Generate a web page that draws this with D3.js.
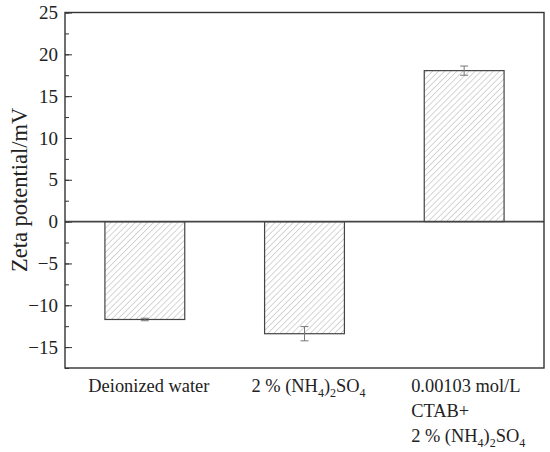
<!DOCTYPE html>
<html>
<head>
<meta charset="utf-8">
<script src="https://cdn.jsdelivr.net/npm/d3@7"></script>
<style>
  body { margin: 0; background: #fff; }
  text { font-family: "Liberation Serif", "Times New Roman", serif; fill: #222; }
</style>
</head>
<body>
<svg id="chart"></svg>
<script>
// data
let categories = ["water", "ammonium", "ctab"];
let labelLines = [
  ["Deionized water"],
  ["2 % (NH_4)_2SO_4"],
  ["0.00103 mol/L", "CTAB+", "2 % (NH_4)_2SO_4"]
];
let zeta = [-11.7, -13.4, 18.05];
let zetaErr = [0.15, 0.85, 0.55];
let yTicks = [-15, -10, -5, 0, 5, 10, 15, 20, 25];
let yMinorTicks = d3.range(-17.5, 25.01, 2.5);

let width = 550;
let height = 452;
let margin = {top: 12.5, right: 6, bottom: 84, left: 65};
let innerW = width - margin.left - margin.right;
let innerH = height - margin.top - margin.bottom;

let svg = d3.select('#chart')
            .attr('width', width)
            .attr('height', height);

let defs = svg.append('defs');
let hatch = defs.append('pattern')
    .attr('id', 'hatch')
    .attr('patternUnits', 'userSpaceOnUse')
    .attr('width', 4.3)
    .attr('height', 4.3)
    .attr('patternTransform', 'rotate(45)');
hatch.append('line')
    .attr('x1', 0).attr('y1', 0)
    .attr('x2', 0).attr('y2', 4.3)
    .attr('stroke', '#999')
    .attr('stroke-width', 0.8);

let g = svg.append('g')
    .attr('transform', `translate(${margin.left},${margin.top})`);

let xScale = d3.scaleBand()
                .domain(categories)
                .range([0, innerW])
                .paddingInner(0.5)
                .paddingOuter(0.25);

let yScale = d3.scaleLinear()
                .domain([-17.5, 25])
                .range([innerH, 0]);

// minor ticks (inward)
g.append('g')
    .call(d3.axisRight(yScale).tickValues(yMinorTicks).tickSize(4).tickFormat(''))
    .call(a => a.select('.domain').remove())
    .selectAll('line').attr('stroke', '#333').attr('stroke-width', 1);

// major ticks + labels
let yAxis = g.append('g')
    .call(d3.axisLeft(yScale).tickValues(yTicks).tickSize(0).tickPadding(7)
            .tickFormat(d => d < 0 ? '\u2212' + Math.abs(d) : d))
    .attr('font-family', null)
    .attr('font-size', null);
yAxis.select('.domain').remove();
yAxis.selectAll('text')
    .attr('font-family', '"Liberation Serif", serif')
    .attr('font-size', 19)
    .attr('fill', '#222');
yAxis.selectAll('.tick')
    .append('line')
    .attr('x1', 0).attr('x2', 7)
    .attr('stroke', '#333').attr('stroke-width', 1);

// bars
let bars = g.selectAll('.bar')
    .data(zeta)
    .enter()
    .append('g')
        .classed('bar', true);

bars.append('rect')
    .attr('x', (d, i) => xScale(categories[i]))
    .attr('y', d => yScale(Math.max(0, d)))
    .attr('width', xScale.bandwidth())
    .attr('height', d => Math.abs(yScale(d) - yScale(0)))
    .attr('fill', 'url(#hatch)')
    .attr('stroke', '#444')
    .attr('stroke-width', 1.2);

// error bars
let capW = 4;
bars.each(function(d, i) {
  let cx = xScale(categories[i]) + xScale.bandwidth() / 2;
  let lo = yScale(d - zetaErr[i]);
  let hi = yScale(d + zetaErr[i]);
  let eb = d3.select(this).append('g')
      .attr('stroke', '#777')
      .attr('stroke-width', 1);
  eb.append('line').attr('x1', cx).attr('x2', cx).attr('y1', lo).attr('y2', hi);
  eb.append('line').attr('x1', cx - capW).attr('x2', cx + capW).attr('y1', lo).attr('y2', lo);
  eb.append('line').attr('x1', cx - capW).attr('x2', cx + capW).attr('y1', hi).attr('y2', hi);
});

// zero line
g.append('line')
    .attr('x1', 0).attr('x2', innerW)
    .attr('y1', yScale(0)).attr('y2', yScale(0))
    .attr('stroke', '#444')
    .attr('stroke-width', 1.6);

// frame
g.append('rect')
    .attr('x', 0).attr('y', 0)
    .attr('width', innerW).attr('height', innerH)
    .attr('fill', 'none')
    .attr('stroke', '#333')
    .attr('stroke-width', 1.4);

// x labels with subscripts
function addRich(textSel, str) {
  let parts = str.split(/_(\d)/);
  let shift = 0;
  parts.forEach((p, k) => {
    if (!p) return;
    if (k % 2 === 1) {
      textSel.append('tspan')
          .attr('font-size', 12)
          .attr('dy', 5 - shift)
          .text(p);
      shift = 5;
    } else {
      textSel.append('tspan')
          .attr('dy', -shift)
          .text(p);
      shift = 0;
    }
  });
}

let xLabels = g.selectAll('.xlabel')
    .data(labelLines)
    .enter()
    .append('g')
        .classed('xlabel', true);

xLabels.each(function(lines, i) {
  let grp = d3.select(this);
  lines.forEach((line, j) => {
    let t = grp.append('text')
        .attr('x', 0)
        .attr('y', innerH + 24 + j * 25)
        .attr('font-size', 18.4);
    addRich(t, line);
  });
  let bw = this.getBBox().width;
  let cx = xScale(categories[i]) + xScale.bandwidth() / 2 + 4;
  grp.attr('transform', `translate(${cx - bw / 2},0)`);
});

// y axis title
svg.append('text')
    .attr('transform', `translate(27,${margin.top + yScale(3.8)}) rotate(-90)`)
    .attr('text-anchor', 'middle')
    .attr('font-size', 22.5)
    .text('Zeta potential/mV');
</script>
</body>
</html>
